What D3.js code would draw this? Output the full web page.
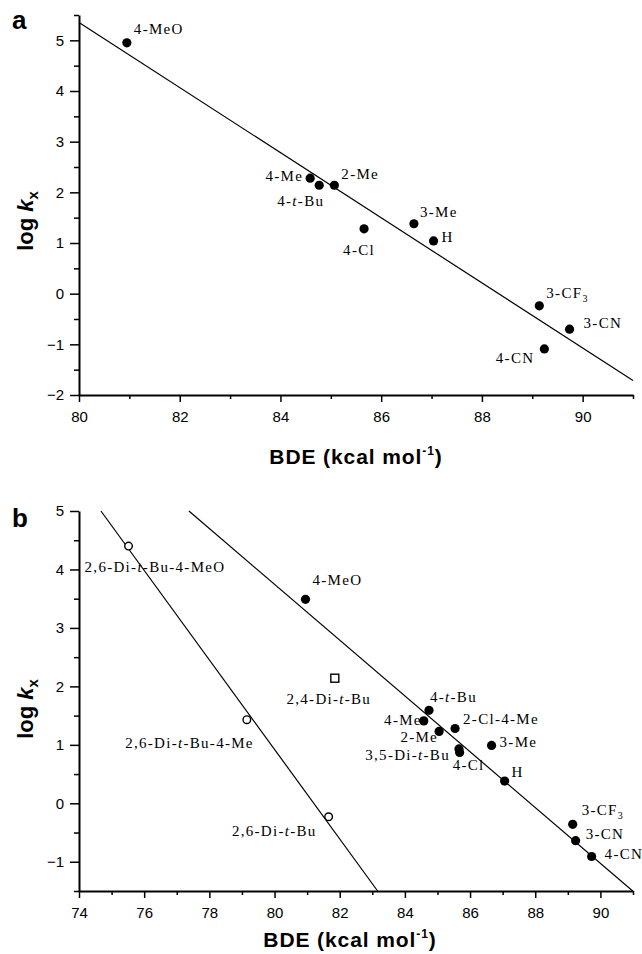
<!DOCTYPE html>
<html><head><meta charset="utf-8">
<script src="https://cdn.jsdelivr.net/npm/d3@7"></script>
<style>
html,body{margin:0;padding:0;background:#fff;}
svg{display:block;}
</style></head><body>
<svg id="fig" width="642" height="954"></svg>
<script>
// ---- Panel a: substituted phenols, log k vs O–H BDE ----
const substituentsA = ["4-MeO","4-Me","4-t-Bu","2-Me","4-Cl","3-Me","H","3-CF3","3-CN","4-CN"];
const bdeA  = [80.95, 84.59, 84.77, 85.07, 85.66, 86.65, 87.04, 89.14, 89.74, 89.24];
const logkA = [4.95, 2.28, 2.14, 2.14, 1.28, 1.38, 1.04, -0.24, -0.70, -1.09];
const fitSlopeA = -0.6427, fitInterceptA = 56.77;

// ---- Panel b ----
const substituentsB = ["4-MeO","4-t-Bu","4-Me","2-Me","2-Cl-4-Me","3-Me","3,5-Di-t-Bu","4-Cl","H","3-CF3","3-CN","4-CN"];
const bdeB  = [80.95, 84.74, 84.58, 85.05, 85.54, 86.66, 85.66, 85.68, 87.06, 89.15, 89.24, 89.73];
const logkB = [3.49, 1.59, 1.41, 1.23, 1.28, 0.99, 0.93, 0.87, 0.38, -0.36, -0.64, -0.91];
const hinderedB     = ["2,6-Di-t-Bu-4-MeO","2,6-Di-t-Bu-4-Me","2,6-Di-t-Bu"];
const bdeHinderedB  = [75.52, 79.15, 81.66];
const logkHinderedB = [4.40, 1.43, -0.23];
const otherB     = ["2,4-Di-t-Bu"];
const bdeOtherB  = [81.85];
const logkOtherB = [2.14];
const fitSlopeB1 = -0.4773, fitInterceptB1 = 41.93;   // unhindered phenols
const fitSlopeB2 = -0.7656, fitInterceptB2 = 62.17;   // 2,6-di-tert-butyl phenols

// ---- Axis ticks ----
const xTicksA = [80, 82, 84, 86, 88, 90];
const xMinorA = [81, 83, 85, 87, 89, 91];
const yTicksA = [-2, -1, 0, 1, 2, 3, 4, 5];
const yMinorA = [-1.5, -0.5, 0.5, 1.5, 2.5, 3.5, 4.5, 5.5];
const xTicksB = [74, 76, 78, 80, 82, 84, 86, 88, 90];
const xMinorB = [75, 77, 79, 81, 83, 85, 87, 89, 91];
const yTicksB = [-1, 0, 1, 2, 3, 4, 5];
const yMinorB = [-1.5, -0.5, 0.5, 1.5, 2.5, 3.5, 4.5];

// label placement: [anchor, dx, dy] relative to the marker centre
const labelPosA = {
  "4-MeO": ["start", 7, -9], "4-Me": ["end", -7, 3], "2-Me": ["start", 7, -6],
  "4-t-Bu": ["end", 5, 21], "4-Cl": ["middle", -5, 26], "3-Me": ["start", 6, -7],
  "H": ["start", 8, 1], "3-CF3": ["start", 7, -8], "3-CN": ["start", 14, -1],
  "4-CN": ["end", -10, 14]
};
const labelPosB = {
  "4-MeO": ["start", 7, -14], "4-t-Bu": ["start", 1, -8], "4-Me": ["end", -2, 4],
  "2-Me": ["end", -1, 11], "2-Cl-4-Me": ["start", 8, -4], "3-Me": ["start", 8, 2],
  "3,5-Di-t-Bu": ["end", -9, 11], "4-Cl": ["start", -7, 18], "H": ["start", 7, -4],
  "3-CF3": ["start", 9, -9], "3-CN": ["start", 10, -2], "4-CN": ["start", 13, 2],
  "2,6-Di-t-Bu-4-MeO": ["start", -44, 26], "2,6-Di-t-Bu-4-Me": ["end", 7, 28],
  "2,6-Di-t-Bu": ["end", -12, 19], "2,4-Di-t-Bu": ["middle", -6, 26]
};

const svg = d3.select("#fig");
const sans = "'Liberation Sans', Arial, sans-serif";
const serif = "'Liberation Serif', 'Times New Roman', serif";

function richLabel(text, name) {
  name.split(/(-t-|CF3)/).forEach(p => {
    if (p === "-t-") {
      text.append("tspan").text("-");
      text.append("tspan").attr("font-style", "italic").text("t");
      text.append("tspan").text("-");
    } else if (p === "CF3") {
      text.append("tspan").text("CF");
      text.append("tspan").attr("font-size", "10px").attr("dy", 4).text("3");
    } else if (p) {
      text.append("tspan").text(p);
    }
  });
}

function drawAxes(g, x, y, xt, xm, yt, ym) {
  const [x0, x1] = x.range();
  const [yb, yt0] = y.range();
  // minor ticks
  g.append("g").attr("transform", `translate(0,${yb})`)
    .call(d3.axisBottom(x).tickValues(xm).tickSize(4).tickFormat(""))
    .call(s => s.select(".domain").remove())
    .selectAll("line").attr("stroke-width", 1.5);
  g.append("g").attr("transform", `translate(${x0},0)`)
    .call(d3.axisLeft(y).tickValues(ym).tickSize(5).tickFormat(""))
    .call(s => s.select(".domain").remove())
    .selectAll("line").attr("stroke-width", 1.5);
  // major ticks + labels
  const xa = g.append("g").attr("transform", `translate(0,${yb})`)
    .call(d3.axisBottom(x).tickValues(xt).tickSize(7).tickSizeOuter(0).tickPadding(9).tickFormat(d3.format("d")));
  const ya = g.append("g").attr("transform", `translate(${x0},0)`)
    .call(d3.axisLeft(y).tickValues(yt).tickSize(9).tickSizeOuter(0).tickPadding(6).tickFormat(d3.format("d")));
  [xa, ya].forEach(a => {
    a.select(".domain").attr("stroke-width", 2);
    a.selectAll(".tick line").attr("stroke-width", 1.5);
    a.selectAll(".tick text").attr("font-family", sans).attr("font-size", "15px").attr("fill", "#000");
  });
}

function fitLine(g, x, y, m, c) {
  const [xd0, xd1] = x.domain();
  const [yd0, yd1] = y.domain();
  const xs = Math.max(xd0, (yd1 - c) / m);
  const xe = Math.min(xd1, (yd0 - c) / m);
  g.append("line")
    .attr("x1", x(xs)).attr("y1", y(m * xs + c))
    .attr("x2", x(xe)).attr("y2", y(m * xe + c))
    .attr("stroke", "#000").attr("stroke-width", 1.2);
}

function labels(g, x, y, names, xs, ys, pos) {
  names.forEach((n, i) => {
    const [anchor, dx, dy] = pos[n];
    const t = g.append("text")
      .attr("x", x(xs[i]) + dx).attr("y", y(ys[i]) + dy)
      .attr("text-anchor", anchor)
      .attr("font-family", serif).attr("font-size", "15px")
      .attr("letter-spacing", "1.3px").attr("fill", "#000");
    richLabel(t, n);
  });
}

function yTitle(cx, cy) {
  const t = svg.append("text")
    .attr("transform", `translate(${cx},${cy}) rotate(-90)`)
    .attr("text-anchor", "middle")
    .attr("font-family", sans).attr("font-weight", "bold").attr("font-size", "22px");
  t.append("tspan").text("log ");
  t.append("tspan").attr("font-style", "italic").text("k");
  t.append("tspan").attr("font-size", "15px").attr("dy", 5).text("x");
}

function xTitle(cx, by) {
  const t = svg.append("text")
    .attr("x", cx).attr("y", by)
    .attr("text-anchor", "middle")
    .attr("font-family", sans).attr("font-weight", "bold").attr("font-size", "21px")
    .attr("letter-spacing", "0.9px");
  t.append("tspan").text("BDE (kcal mol");
  t.append("tspan").attr("font-size", "12px").attr("dy", -9).text("-1");
  t.append("tspan").attr("dy", 9).text(")");
}

function panelLetter(ch, px, py) {
  svg.append("text").attr("x", px).attr("y", py)
    .attr("font-family", sans).attr("font-weight", "bold").attr("font-size", "26px")
    .text(ch);
}

// ---------- Panel a ----------
{
  const g = svg.append("g");
  const x = d3.scaleLinear().domain([80, 91]).range([79, 633]);
  const y = d3.scaleLinear().domain([-2, 5.5]).range([395, 15]);
  drawAxes(g, x, y, xTicksA, xMinorA, yTicksA, yMinorA);
  fitLine(g, x, y, fitSlopeA, fitInterceptA);
  g.selectAll("circle.pa").data(substituentsA).join("circle")
    .attr("cx", (d, i) => x(bdeA[i])).attr("cy", (d, i) => y(logkA[i]))
    .attr("r", 4.6).attr("fill", "#000");
  labels(g, x, y, substituentsA, bdeA, logkA, labelPosA);
  panelLetter("a", 12, 29);
  yTitle(33, 221);
  xTitle(356, 464);
}

// ---------- Panel b ----------
{
  const g = svg.append("g");
  const x = d3.scaleLinear().domain([74, 91]).range([79, 633]);
  const y = d3.scaleLinear().domain([-1.5, 5]).range([891, 511]);
  drawAxes(g, x, y, xTicksB, xMinorB, yTicksB, yMinorB);
  fitLine(g, x, y, fitSlopeB1, fitInterceptB1);
  fitLine(g, x, y, fitSlopeB2, fitInterceptB2);
  g.selectAll("circle.pb").data(substituentsB).join("circle")
    .attr("cx", (d, i) => x(bdeB[i])).attr("cy", (d, i) => y(logkB[i]))
    .attr("r", 4.6).attr("fill", "#000");
  g.selectAll("circle.hb").data(hinderedB).join("circle")
    .attr("cx", (d, i) => x(bdeHinderedB[i])).attr("cy", (d, i) => y(logkHinderedB[i]))
    .attr("r", 3.8).attr("fill", "#fff").attr("stroke", "#000").attr("stroke-width", 1.4);
  g.selectAll("rect.ob").data(otherB).join("rect")
    .attr("x", (d, i) => x(bdeOtherB[i]) - 4).attr("y", (d, i) => y(logkOtherB[i]) - 4)
    .attr("width", 8).attr("height", 8)
    .attr("fill", "#fff").attr("stroke", "#000").attr("stroke-width", 1.4);
  labels(g, x, y, substituentsB, bdeB, logkB, labelPosB);
  labels(g, x, y, hinderedB, bdeHinderedB, logkHinderedB, labelPosB);
  labels(g, x, y, otherB, bdeOtherB, logkOtherB, labelPosB);
  panelLetter("b", 12, 527);
  yTitle(33, 709);
  xTitle(350, 947);
}
</script>
</body></html>
